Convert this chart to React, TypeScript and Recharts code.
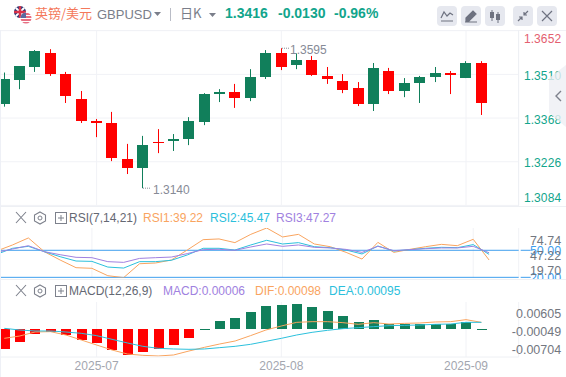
import React from "react";
import { ComposedChart, Bar, Line, XAxis, YAxis, CartesianGrid, ReferenceLine } from "recharts";

const openPrices = [1.3414,1.3492,1.3534,1.3579,1.3511,1.3430,1.3358,1.3352,1.3235,1.3206,1.3290,1.3293,1.3300,1.3355,1.3446,1.3453,1.3433,1.3501,1.3579,1.3540,1.3557,1.3505,1.3488,1.3466,1.3414,1.3521,1.3456,1.3482,1.3501,1.3514,1.3498,1.3547];
const closePrices = [1.3495,1.3537,1.3586,1.3511,1.3440,1.3358,1.3352,1.3238,1.3206,1.3280,1.3287,1.3300,1.3358,1.3446,1.3453,1.3433,1.3501,1.3579,1.3534,1.3557,1.3508,1.3495,1.3459,1.3414,1.3531,1.3456,1.3482,1.3501,1.3514,1.3508,1.3547,1.3417];
const highPrices = [1.3516,1.3537,1.3589,1.3592,1.3518,1.3456,1.3365,1.3388,1.3284,1.3310,1.3332,1.3316,1.3371,1.3449,1.3462,1.3479,1.3527,1.3589,1.3595,1.3578,1.3570,1.3534,1.3511,1.3485,1.3547,1.3531,1.3498,1.3505,1.3534,1.3521,1.3553,1.3553];
const lowPrices = [1.3405,1.3462,1.3518,1.3505,1.3417,1.3352,1.3306,1.3228,1.3186,1.3140,1.3254,1.3261,1.3280,1.3345,1.3420,1.3401,1.3423,1.3495,1.3524,1.3527,1.3505,1.3479,1.3449,1.3407,1.3391,1.3446,1.3436,1.3417,1.3485,1.3446,1.3498,1.3378];
const rsi1 = [49.2,55.9,63.7,48.5,39.2,30.7,30,21.8,19.7,35.1,35.9,39.2,50.3,61.8,62.6,58.5,67.7,74.74,64.8,67.7,57,54,47.7,40.3,58.8,47.7,51,54,56.6,55.1,62.2,39.22];
const rsi2 = [45.5,52.2,54.4,48.5,42.9,38.1,37.7,31.4,30.3,37.4,37.4,38.9,44.8,52.2,52.2,50.3,55.9,61.1,57,58.5,54,52.9,50.3,45.9,54.8,49.2,50.7,52.2,53.3,52.9,56.3,45.47];
const rsi3 = [47.7,51.4,55.1,48.5,45.1,42.2,41.8,37.4,36.6,41,41.8,42.5,46.3,50.7,51.1,50,53.7,57,54.4,55.9,53.3,52.6,51,47.7,54.4,49.6,50.7,51.8,52.6,52.6,54.4,47.27];
const hist = [-.00513,-.00334,-.00128,-.00086,-.00154,-.00282,-.00359,-.00539,-.00667,-.0059,-.00513,-.00411,-.00231,-.00025,.00205,.00282,.00436,.0059,.00616,.00642,.00565,.00462,.00334,.0018,.00231,.00137,.00137,.00128,.0012,.00128,.00188,-.00025];
const dif = [-.0024,-.0018,-.00077,-.00068,-.00154,-.00282,-.00411,-.00539,-.00642,-.00676,-.00693,-.00667,-.00565,-.00471,-.00385,-.00308,-.00171,-.00026,.00077,.00171,.00188,.00188,.00163,.0012,.00163,.00128,.00145,.00154,.0018,.00188,.0024,.00171];
const dea = [.00017,-.00026,-.00051,-.00051,-.00077,-.00111,-.00171,-.00265,-.00359,-.00445,-.00496,-.00513,-.00522,-.00513,-.00479,-.00445,-.00394,-.00317,-.0024,-.00154,-.00086,-.00034,.00009,.00034,.0006,.00086,.00094,.00103,.0012,.00128,.00171,.00171];
const monthTicks = [6, 18, 30];
const monthLabels = ["2025-07", "2025-08", "2025-09"];
const priceTicks = [1.3084, 1.3226, 1.3368, 1.351, 1.3652];
const rsiTicks = [74.74, 50, 47.22, 20, 19.7];
const macdTicks = [0.00605, -0.00049, -0.00704];

const data = openPrices.map((o, i) => ({
  i, open: o, close: closePrices[i], high: highPrices[i], low: lowPrices[i],
  range: [lowPrices[i], highPrices[i]],
  rsi1: rsi1[i], rsi2: rsi2[i], rsi3: rsi3[i], hist: hist[i], dif: dif[i], dea: dea[i],
}));

const FONT = '"Liberation Sans", "Noto Sans CJK SC", sans-serif';
const RED = "#ff0000";
const GREEN = "#117f5b";
const TEAL = "#12a58c";
const ORANGE = "#f9a45f";
const CYAN = "#2cc0dc";
const PURPLE = "#a081e0";
const GRID = "#f1f2f6";
const BLUE = "#3f9fee";
const GRAY = "#868a96";

const maxHigh = Math.max(...highPrices);
const minLow = Math.min(...lowPrices);

const Candle = (props: any) => {
  const { x, y, width, height, payload } = props;
  const cx = Math.round(x + width / 2 - 5.5);
  const top = Math.min(y, y + height);
  const h = Math.abs(height);
  const per = h / (payload.high - payload.low);
  const up = payload.close >= payload.open;
  const bTop = top + (payload.high - Math.max(payload.open, payload.close)) * per;
  const bH = Math.abs(payload.close - payload.open) * per;
  const fill = up ? GREEN : RED;
  return (
    <g>
      <rect x={cx + 5} y={top} width={1} height={h} fill={fill} />
      <rect x={cx} y={Math.round(bTop)} width={11} height={Math.max(1, Math.round(bH))} fill={fill} />
      {payload.high === maxHigh && (
        <g>
          <line x1={cx + 6} x2={cx + 13} y1={top} y2={top} stroke="#8a8f99" strokeDasharray="1 1" />
          <text x={cx + 14} y={top + 6} fontSize={12} fill={GRAY} fontFamily={FONT}>{payload.high.toFixed(4)}</text>
        </g>
      )}
      {payload.low === minLow && (
        <g>
          <line x1={cx + 6} x2={cx + 14} y1={top + h} y2={top + h} stroke="#8a8f99" strokeDasharray="1 1" />
          <text x={cx + 16} y={top + h + 6} fontSize={12} fill={GRAY} fontFamily={FONT}>{payload.low.toFixed(4)}</text>
        </g>
      )}
    </g>
  );
};

const HistBar = (props: any) => {
  const { x, y, width, height, payload } = props;
  const top = Math.min(y, y + height);
  const h = Math.max(1, Math.round(Math.abs(height)));
  return <rect x={Math.round(x + width / 2 - 5)} y={Math.round(top)} width={10} height={h} fill={payload.i < 13 ? RED : GREEN} />;
};

const RIGHT_TEXT = 40.5;
const PriceTick = (props: any) => {
  const { x, y, payload } = props;
  const v = payload.value;
  const dy = v === 1.3652 ? 12 : v === 1.3084 ? -3 : 5.5;
  return (
    <text x={x + RIGHT_TEXT} y={y + dy} textAnchor="end" fontSize={12} letterSpacing={0.1} fontFamily={FONT} fill={v === 1.3652 ? "#e4606f" : TEAL}>
      {v.toFixed(4)}
    </text>
  );
};
const RsiTick = (props: any) => {
  const { x, y, payload } = props;
  const v = payload.value;
  const blue = v === 50 || v === 20;
  const dy = v === 74.74 ? 16.5 : v === 47.22 ? 7.5 : v === 19.7 ? -2.5 : 5;
  return (
    <g>
      {blue && <line x1={x} x2={x + 10} y1={y} y2={y} stroke={BLUE} />}
      <text x={x + RIGHT_TEXT} y={y + dy} textAnchor="end" fontSize={12.5} fontFamily={FONT} fill={blue ? BLUE : "#73777f"}>
        {v.toFixed(2)}
      </text>
    </g>
  );
};
const MacdTick = (props: any) => {
  const { x, y, payload } = props;
  const v = payload.value;
  const dy = v === 0.00605 ? 12.5 : v === -0.00049 ? 5.5 : -2;
  return (
    <text x={x + RIGHT_TEXT} y={y + dy} textAnchor="end" fontSize={12.5} fontFamily={FONT} fill="#73777f">
      {v.toFixed(5)}
    </text>
  );
};

const CHART_W = 570;
const MARGIN_L = 0.6;
const AXIS_W = 47.3;
const PAD_R = 29.6;

const xAxisHidden = (
  <XAxis dataKey="i" type="category" hide ticks={monthTicks} interval={0} padding={{ left: 0, right: PAD_R }} />
);

const abs = (left: number, top: number, extra: React.CSSProperties = {}): React.CSSProperties => ({
  position: "absolute", left, top, whiteSpace: "nowrap", lineHeight: 1, fontFamily: FONT, ...extra,
});

const Btn = ({ x, children }: { x: number; children: React.ReactNode }) => (
  <svg style={{ position: "absolute", left: x, top: 6 }} width={20} height={20}>
    <rect width={20} height={20} rx={4} fill="#e6e8ef" />
    {children}
  </svg>
);

const PaneIcons = ({ y }: { y: number }) => (
  <svg style={{ position: "absolute", left: 14, top: y - 7 }} width={54} height={14}>
    <path d="M2 1 L12 12 M12 1 L2 12" stroke="#7d818c" strokeWidth={1.1} fill="none" />
    <path d="M26 1 L31.5 4 V10 L26 13 L20.5 10 V4 Z" stroke="#7d818c" strokeWidth={1.1} fill="none" />
    <circle cx={26} cy={7} r={2} stroke="#7d818c" fill="none" />
    <rect x={41.5} y={1.5} width={11} height={11} stroke="#7d818c" fill="none" />
    <path d="M44 7 H50 M47 4 V10" stroke="#7d818c" />
  </svg>
);

export default function App() {
  return (
    <div style={{ position: "absolute", left: 0, top: 0, width: 566, height: 377, background: "#fff", overflow: "hidden" }}>
      {/* price pane */}
      <div style={{ position: "absolute", left: -4, top: 0 }}>
        <ComposedChart width={CHART_W} height={207} data={data} margin={{ top: 30.7, right: 0, bottom: 1.6, left: MARGIN_L }} barSize={11}>
          <CartesianGrid stroke={GRID} />
          {xAxisHidden}
          <YAxis orientation="right" width={AXIS_W} domain={[1.3084, 1.3652]} ticks={priceTicks} interval={0} axisLine={false} tickLine={false} tickSize={0} tick={<PriceTick />} allowDataOverflow />
          <Bar dataKey="range" shape={<Candle />} isAnimationActive={false} />
        </ComposedChart>
      </div>
      {/* RSI pane */}
      <div style={{ position: "absolute", left: -4, top: 207 }}>
        <ComposedChart width={CHART_W} height={72} data={data} margin={{ top: 21, right: 0, bottom: 1.4, left: MARGIN_L }}>
          <CartesianGrid stroke={GRID} horizontal={false} />
          {xAxisHidden}
          <YAxis orientation="right" width={AXIS_W} domain={[19.7, 74.74]} ticks={rsiTicks} interval={0} axisLine={false} tickLine={false} tickSize={0} tick={<RsiTick />} allowDataOverflow />
          <ReferenceLine y={50} stroke={BLUE} />
          <ReferenceLine y={20} stroke={BLUE} />
          <Line dataKey="rsi1" stroke={ORANGE} strokeWidth={1} dot={false} isAnimationActive={false} />
          <Line dataKey="rsi2" stroke={CYAN} strokeWidth={1} dot={false} isAnimationActive={false} />
          <Line dataKey="rsi3" stroke={PURPLE} strokeWidth={1} dot={false} isAnimationActive={false} />
        </ComposedChart>
      </div>
      {/* MACD pane */}
      <div style={{ position: "absolute", left: -4, top: 279, background: "#fff" }}>
        <ComposedChart width={CHART_W} height={98} data={data} margin={{ top: 23, right: 0, bottom: 0, left: MARGIN_L }} barSize={10}>
          <CartesianGrid stroke={GRID} horizontal={false} />
          <XAxis
            dataKey="i" type="category" height={20} padding={{ left: 0, right: PAD_R }} ticks={monthTicks} interval={0}
            tickFormatter={(v: number) => monthLabels[monthTicks.indexOf(v)]}
            axisLine={{ stroke: "#eef0f4" }} tickLine={false} tickSize={0} tickMargin={4}
            tick={{ fontSize: 12, fill: "#a3a6af", fontFamily: FONT }}
          />
          <YAxis orientation="right" width={AXIS_W} domain={[-0.00719, 0.00693]} ticks={macdTicks} interval={0} axisLine={false} tickLine={false} tickSize={0} tick={<MacdTick />} allowDataOverflow />
          <Bar dataKey="hist" shape={<HistBar />} isAnimationActive={false} />
          <Line dataKey="dif" stroke={ORANGE} strokeWidth={1} dot={false} isAnimationActive={false} />
          <Line dataKey="dea" stroke={CYAN} strokeWidth={1} dot={false} isAnimationActive={false} />
        </ComposedChart>
      </div>

      {/* frame lines */}
      <div style={{ position: "absolute", left: 0, top: 30, width: 566, height: 1, background: "#f1f2f6" }} />
      <div style={{ position: "absolute", left: 0, top: 206, width: 566, height: 1, background: "#eef0f4" }} />
      <div style={{ position: "absolute", left: 0, top: 279, width: 566, height: 1, background: "#eef0f4" }} />
      <div style={{ position: "absolute", left: 0, top: 30, width: 1, height: 347, background: "#eef0f6" }} />
      <div style={{ position: "absolute", left: 518, top: 30, width: 1, height: 176, background: "#eef0f4" }} />

      {/* collapse tab */}
      <svg style={{ position: "absolute", left: 549, top: 65 }} width={17} height={62}>
        <path d="M17 0 L0 13 V48 L17 62 Z" fill="rgba(238,239,244,0.8)" />
        <path d="M12 26 L7 31 L12 36" stroke="#7d818c" strokeWidth={1.4} fill="none" />
      </svg>

      {/* header */}
      <svg style={{ position: "absolute", left: 13, top: 5 }} width={20} height={20}>
        <defs>
          <clipPath id="uk"><circle cx={7} cy={7} r={6} /></clipPath>
          <clipPath id="us"><circle cx={13} cy={13} r={5.5} /></clipPath>
        </defs>
        <g clipPath="url(#uk)">
          <rect width={14} height={14} fill="#2b3a78" />
          <path d="M1 1 L13 13 M13 1 L1 13" stroke="#fff" strokeWidth={2} />
          <path d="M7 0 V14 M0 7 H14" stroke="#d9334a" strokeWidth={2.4} />
        </g>
        <g clipPath="url(#us)">
          <rect x={7} y={7} width={12} height={12} fill="#fff" />
          <path d="M7 9 H19 M7 12 H19 M7 15 H19 M7 18 H19" stroke="#e0405a" strokeWidth={1.4} />
          <rect x={7} y={7} width={6} height={6} fill="#5a6aa0" />
        </g>
      </svg>
      <div style={abs(35, 6, { fontSize: 13, color: "#f4795b", fontFamily: '"Noto Sans CJK SC", sans-serif' })}>英镑/美元</div>
      <div style={abs(97, 8, { fontSize: 13, color: "#7a7e8a" })}>GBPUSD</div>
      <svg style={{ position: "absolute", left: 154, top: 12 }} width={8} height={5}><path d="M0 0 H7 L3.5 4 Z" fill="#7a7e8a" /></svg>
      <div style={{ position: "absolute", left: 170, top: 8, width: 1, height: 13, background: "#b9bcc6" }} />
      <div style={abs(180, 6, { fontSize: 13, color: "#7a7e8a", fontFamily: '"Noto Sans CJK SC", sans-serif' })}>日K</div>
      <svg style={{ position: "absolute", left: 209, top: 13 }} width={8} height={5}><path d="M0 0 H7 L3.5 4 Z" fill="#7a7e8a" /></svg>
      <div style={abs(225, 6, { fontSize: 14, fontWeight: 700, color: TEAL })}>1.3416</div>
      <div style={abs(278, 6, { fontSize: 14, fontWeight: 700, color: TEAL })}>-0.0130</div>
      <div style={abs(334, 6, { fontSize: 14, fontWeight: 700, color: TEAL })}>-0.96%</div>

      <Btn x={437}><path d="M4 12 L7 6 L10 10 L13 7 L16 9 M4 15 H16" stroke="#6e7280" strokeWidth={1.2} fill="none" /></Btn>
      <Btn x={461}><path d="M5 12 L12 5 L15 8 L8 15 H5 Z M4 16 H16" stroke="#6e7280" strokeWidth={1.2} fill="#6e7280" /></Btn>
      <Btn x={485}><path d="M7 4 V15 M13 6 V17" stroke="#6e7280" /><rect x={5} y={6} width={4} height={6} fill="#6e7280" /><rect x={11} y={8} width={4} height={6} fill="#6e7280" /></Btn>
      <Btn x={513}><path d="M15 5 L11 9 M11 6 V9 H14 M5 15 L9 11 M6 11 H9 V14" stroke="#6e7280" strokeWidth={1.2} fill="none" /></Btn>
      <Btn x={537}><path d="M5 5 L15 15 M15 5 L5 15" stroke="#6e7280" strokeWidth={1.2} /></Btn>

      {/* RSI legend */}
      <PaneIcons y={218} />
      <div style={abs(69, 212, { fontSize: 12, color: "#646873" })}>RSI(7,14,21)</div>
      <div style={abs(143, 212, { fontSize: 12, color: ORANGE })}>RSI1:39.22</div>
      <div style={abs(210, 212, { fontSize: 12, color: CYAN })}>RSI2:45.47</div>
      <div style={abs(276, 212, { fontSize: 12, color: PURPLE })}>RSI3:47.27</div>

      {/* MACD legend */}
      <PaneIcons y={291} />
      <div style={abs(69, 285, { fontSize: 12, color: "#646873" })}>MACD(12,26,9)</div>
      <div style={abs(163, 285, { fontSize: 12, color: PURPLE })}>MACD:0.00006</div>
      <div style={abs(255, 285, { fontSize: 12, color: ORANGE })}>DIF:0.00098</div>
      <div style={abs(329, 285, { fontSize: 12, color: CYAN })}>DEA:0.00095</div>
    </div>
  );
}
